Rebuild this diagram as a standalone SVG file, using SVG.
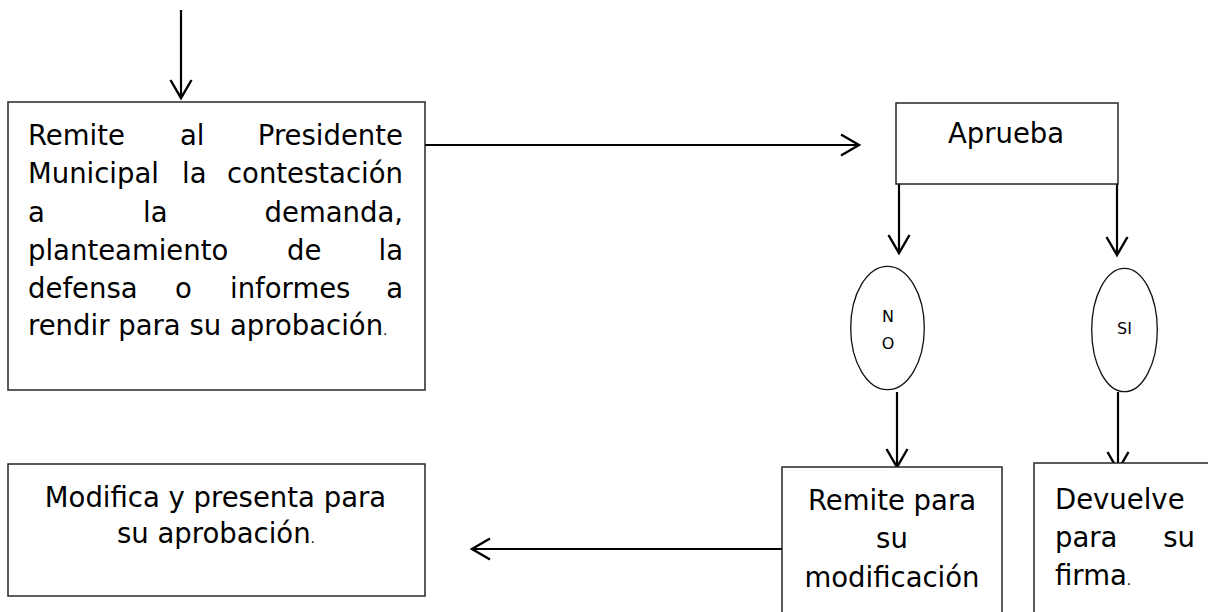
<svg xmlns="http://www.w3.org/2000/svg" width="1208" height="612" viewBox="0 0 1208 612">
<style>
.box{fill:#fff;stroke:#262626;stroke-width:1.5}
.ell{fill:#fff;stroke:#111;stroke-width:1.3}
.t{font-family:"DejaVu Sans","Liberation Sans",sans-serif;font-size:27.5px;fill:#000}
.s{font-family:"DejaVu Sans","Liberation Sans",sans-serif;font-size:16px;fill:#000}
.dot{font-size:14px}
.c{stroke:#000;stroke-width:2.2;fill:none}
</style>
<defs>
<marker id="ah" markerUnits="userSpaceOnUse" markerWidth="26" markerHeight="26" viewBox="-22 -13 26 26" refX="0" refY="0" orient="auto">
<path d="M-18,-10.5 L0,0 L-18,10.5" fill="none" stroke="#000" stroke-width="2.4"/>
</marker>
</defs>
<rect width="1208" height="612" fill="#fff"/>
<g id="connectors">
<line class="c" x1="181" y1="10" x2="181" y2="98" marker-end="url(#ah)"/>
<line class="c" x1="425" y1="145" x2="859" y2="145" marker-end="url(#ah)"/>
<line class="c" x1="899" y1="184" x2="899" y2="253" marker-end="url(#ah)"/>
<line class="c" x1="1117" y1="184" x2="1117" y2="255" marker-end="url(#ah)"/>
<line class="c" x1="897" y1="392" x2="897" y2="467" marker-end="url(#ah)"/>
<line class="c" x1="1118" y1="392" x2="1118" y2="470" marker-end="url(#ah)"/>
<line class="c" x1="782" y1="549" x2="472" y2="549" marker-end="url(#ah)"/>
</g>
<g id="node-remite">
<rect class="box" x="8" y="102" width="417" height="288"/>
<text class="t" y="145"><tspan x="28">Remite</tspan><tspan x="180">al</tspan><tspan x="403" text-anchor="end">Presidente</tspan></text>
<text class="t" y="183"><tspan x="28">Municipal</tspan><tspan x="182">la</tspan><tspan x="403" text-anchor="end">contestación</tspan></text>
<text class="t" y="222"><tspan x="28">a</tspan><tspan x="143">la</tspan><tspan x="403" text-anchor="end">demanda,</tspan></text>
<text class="t" y="260"><tspan x="28">planteamiento</tspan><tspan x="287">de</tspan><tspan x="403" text-anchor="end">la</tspan></text>
<text class="t" y="298"><tspan x="28">defensa</tspan><tspan x="175">o</tspan><tspan x="230">informes</tspan><tspan x="403" text-anchor="end">a</tspan></text>
<text class="t" x="28" y="335">rendir para su aprobación<tspan class="dot">.</tspan></text>
</g>
<g id="node-aprueba">
<rect class="box" x="896" y="103" width="222" height="81"/>
<text class="t" x="1006" y="143" text-anchor="middle">Aprueba</text>
</g>
<g id="node-no">
<ellipse class="ell" cx="887.5" cy="328" rx="36.8" ry="61.7"/>
<text class="s" x="888" y="322" text-anchor="middle">N</text>
<text class="s" x="888" y="349" text-anchor="middle">O</text>
</g>
<g id="node-si">
<ellipse class="ell" cx="1124.5" cy="330" rx="32.8" ry="61.7"/>
<text class="s" x="1124.5" y="334" text-anchor="middle">SI</text>
</g>
<g id="node-remite-mod">
<rect class="box" x="782" y="467" width="220" height="160"/>
<text class="t" x="892" y="510" text-anchor="middle">Remite para</text>
<text class="t" x="892" y="548" text-anchor="middle">su</text>
<text class="t" x="892" y="587" text-anchor="middle">modificación</text>
</g>
<g id="node-devuelve">
<rect class="box" x="1034" y="463" width="200" height="160"/>
<text class="t" x="1055" y="509">Devuelve</text>
<text class="t" y="547"><tspan x="1055">para</tspan><tspan x="1195" text-anchor="end">su</tspan></text>
<text class="t" x="1055" y="585">firma<tspan class="dot">.</tspan></text>
</g>
<g id="node-modifica">
<rect class="box" x="8" y="464" width="417" height="132"/>
<text class="t" x="215.5" y="507" text-anchor="middle">Modifica y presenta para</text>
<text class="t" x="216" y="543" text-anchor="middle">su aprobación<tspan class="dot">.</tspan></text>
</g>
</svg>
